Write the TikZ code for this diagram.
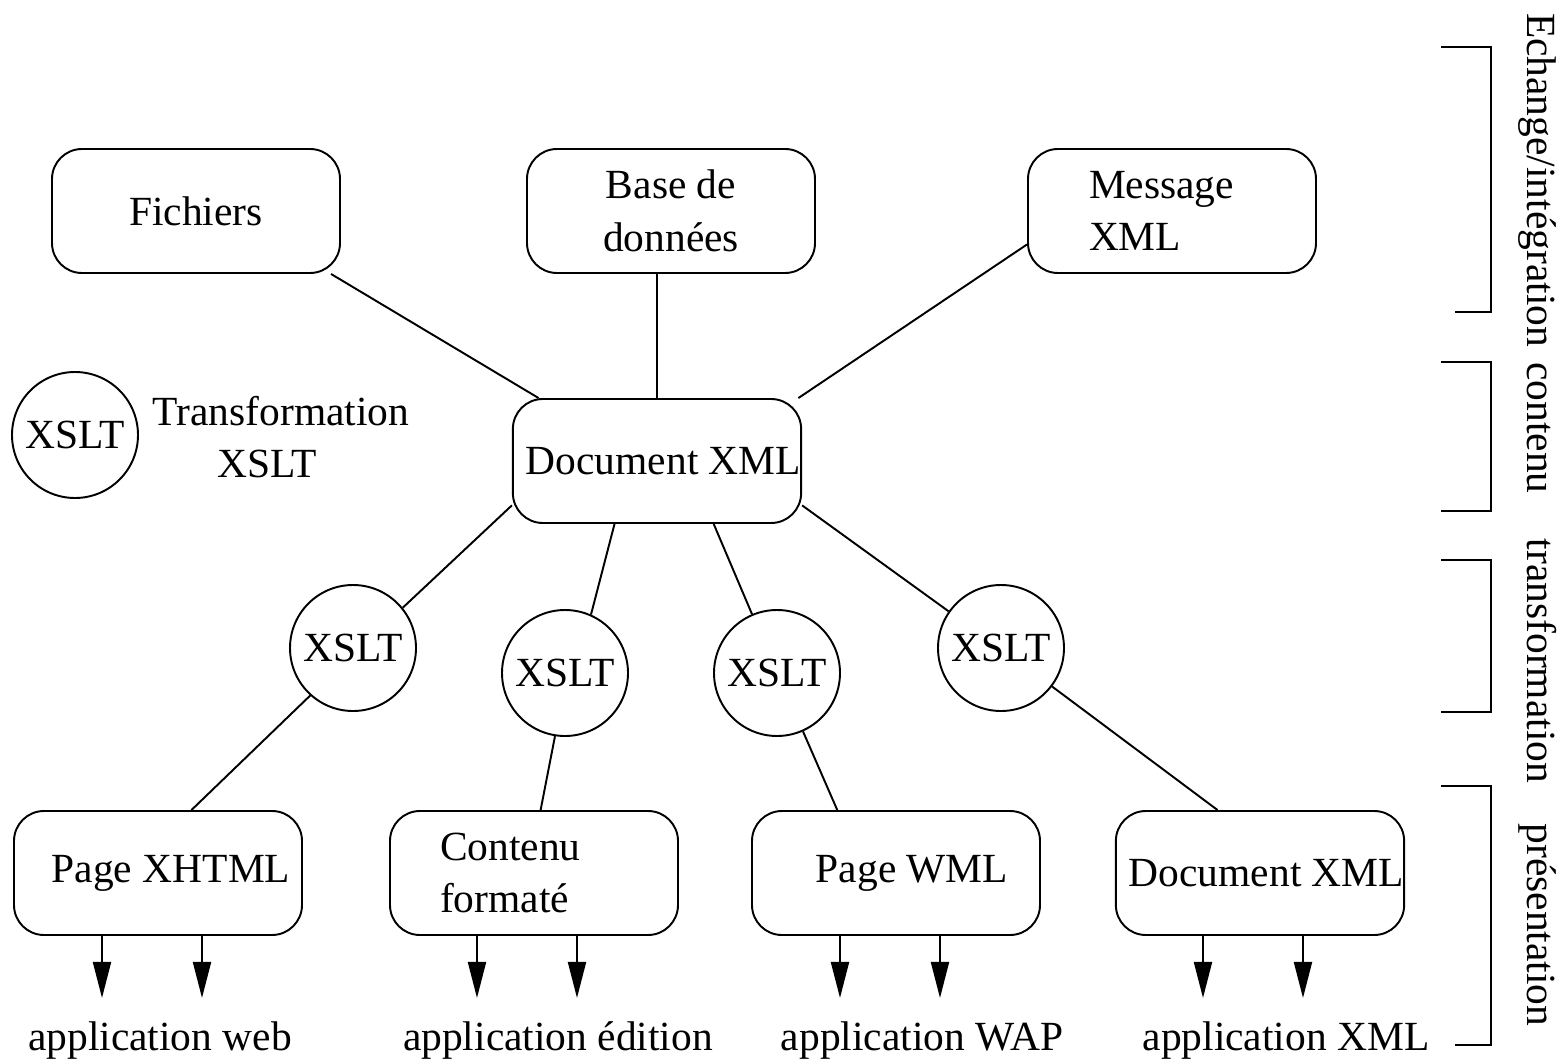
\documentclass[tikz,border=0pt]{standalone}
\usepackage{fontspec}
\setmainfont{Liberation Serif}
\usetikzlibrary{arrows.meta}

\begin{document}
\begin{tikzpicture}[scale=0.2, line width=1.1pt]
\tikzstyle{every node}+=[inner sep=0pt, font=\fontsize{23.6}{30}\selectfont]
\tikzstyle{box}=[draw, rounded corners=0.6cm, minimum width=5.76cm, minimum height=2.48cm]
\tikzstyle{xslt}=[draw, circle, minimum size=2.52cm]
\tikzstyle{side}=[rotate=-90, anchor=base]
\tikzstyle{arr}=[-{Triangle[length=0.72cm, width=0.36cm]}]
\useasboundingbox (0,0) rectangle (156.2,-106.1);
\node [box] (fich) at (19.6,-21.1) {Fichiers};
\node [box, align=center] (base) at (67.1,-21.1) {Base de\\données};
\node [box, align=left, inner xsep=1.22cm, text width=3.32cm] (msg) at (117.2,-21.1) {Message\\XML};
\node [box] (doc) at (65.7,-46.1) {\hspace*{0.26cm}Document XML};
\node [xslt] (leg) at (7.5,-43.5) {XSLT};
\node [align=center] (legtxt) at (28.1,-43.7) {Transformation\\XSLT\hspace*{0.56cm}};
\node [xslt] (t1) at (35.3,-64.8) {XSLT};
\node [xslt] (t2) at (56.5,-67.3) {XSLT};
\node [xslt] (t3) at (77.7,-67.3) {XSLT};
\node [xslt] (t4) at (100.1,-64.8) {XSLT};
\node [box] (web) at (15.8,-87.3) {\hspace*{0.52cm}Page XHTML};
\node [box, align=left, inner xsep=1cm, text width=3.76cm] (edit) at (53.4,-87.3) {Contenu\\formaté};
\node [box] (wml) at (89.6,-87.3) {\hspace*{0.64cm}Page WML};
\node [box] (xml) at (126.0,-87.3) {\hspace*{0.26cm}Document XML};
\draw (fich.335) -- (doc.152);
\draw (doc.north) -- (doc.north |- base.south);
\draw (msg.193) -- (doc.24);
\draw (doc.197) -- (t1.39);
\draw (doc.236) -- (t2.66);
\draw (doc.312) -- (t3.113);
\draw (doc.343) -- (t4.145);
\draw (t1.228) -- (web.62);
\draw (t2.261) -- (edit.84);
\draw (t3.294) -- (wml.133);
\draw (t4.323) -- (xml.124);
% sorties
\coordinate (wa) at (10.2,-99.8);
\coordinate (wb) at (20.2,-99.8);
\coordinate (ea) at (47.7,-99.8);
\coordinate (eb) at (57.7,-99.8);
\coordinate (pa) at (84.0,-99.8);
\coordinate (pb) at (94.0,-99.8);
\coordinate (xa) at (120.3,-99.8);
\coordinate (xb) at (130.3,-99.8);
\draw [arr] (web.south -| wa) -- (wa);
\draw [arr] (web.south -| wb) -- (wb);
\draw [arr] (edit.south -| ea) -- (ea);
\draw [arr] (edit.south -| eb) -- (eb);
\draw [arr] (wml.south -| pa) -- (pa);
\draw [arr] (wml.south -| pb) -- (pb);
\draw [arr] (xml.south -| xa) -- (xa);
\draw [arr] (xml.south -| xb) -- (xb);
\node [anchor=base] (appweb) at (16.0,-105.0) {application web};
\node [anchor=base] (appedit) at (55.8,-105.0) {application édition};
\node [anchor=base] (appwap) at (92.2,-105.0) {application WAP};
\node [anchor=base] (appxml) at (128.6,-105.0) {application XML};
% niveaux
\draw (144.1,-4.7) -- (149.1,-4.7) -- (149.1,-31.2) -- (145.5,-31.2);
\draw (144.1,-36.2) -- (149.1,-36.2) -- (149.1,-51.1) -- (144.1,-51.1);
\draw (144.1,-56.0) -- (149.1,-56.0) -- (149.1,-71.2) -- (144.1,-71.2);
\draw (144.1,-78.6) -- (149.1,-78.6) -- (149.1,-104.5) -- (145.5,-104.5);
\node [side] (niv1) at (152.7,-18.0) {Echange/intégration};
\node [side] (niv2) at (152.7,-42.8) {contenu};
\node [side] (niv3) at (152.7,-66.1) {transformation};
\node [side] (niv4) at (152.7,-92.5) {présentation};
\end{tikzpicture}
\end{document}
